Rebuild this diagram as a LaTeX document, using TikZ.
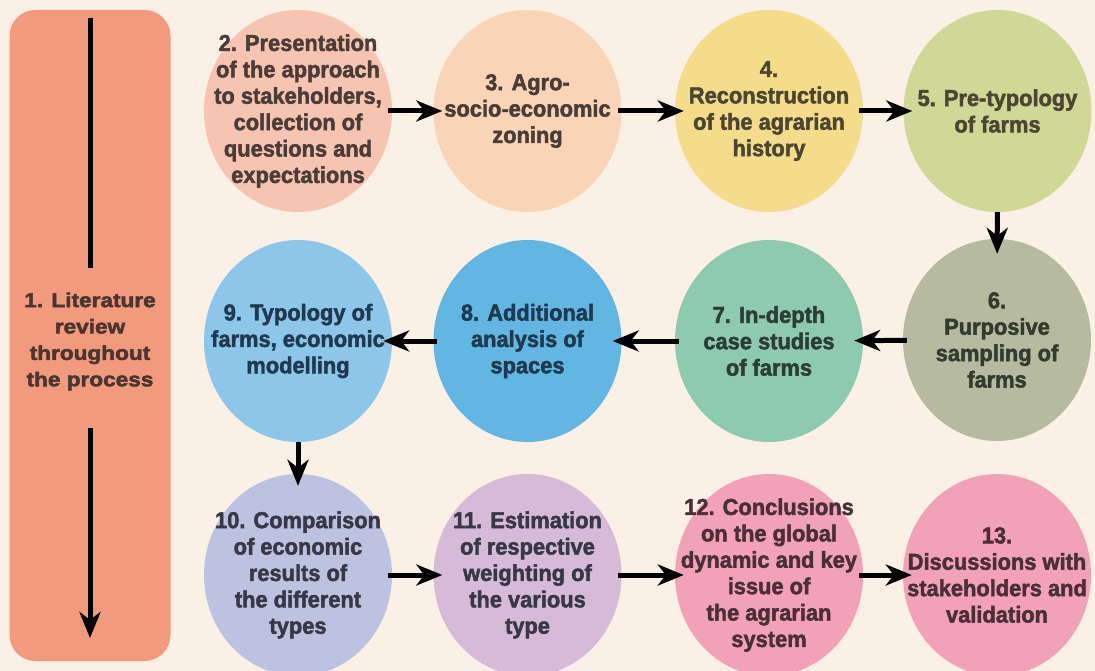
\documentclass[tikz,border=0pt]{standalone}
\usepackage{xcolor}
\usepackage{fontspec}
\usetikzlibrary{shapes.geometric,arrows.meta}

\newfontfamily\stepfont{Liberation Sans}[FakeStretch=0.95,BoldFeatures={FakeBold=2}]
\newfontfamily\litfont{Liberation Sans}[FakeStretch=1.13,BoldFeatures={FakeBold=2.5}]

\definecolor{bgcream}{HTML}{FAF0E5}
\definecolor{litfill}{HTML}{F29A7E}
\definecolor{littext}{HTML}{4B3530}
\definecolor{fillA}{HTML}{F7C4B1}
\definecolor{fillB}{HTML}{F9D4B6}
\definecolor{fillC}{HTML}{F4DC8A}
\definecolor{fillD}{HTML}{CFD897}
\definecolor{fillE}{HTML}{B6BA9E}
\definecolor{fillF}{HTML}{8DCAB0}
\definecolor{fillG}{HTML}{62B6E2}
\definecolor{fillH}{HTML}{8CC6E8}
\definecolor{fillI}{HTML}{BCC2E0}
\definecolor{fillJ}{HTML}{D6BAD8}
\definecolor{fillK}{HTML}{F2A2B8}
\definecolor{textA}{HTML}{4A3C38}
\definecolor{textC}{HTML}{4B4632}
\definecolor{textE}{HTML}{353A30}
\definecolor{textF}{HTML}{2C3D35}
\definecolor{textG}{HTML}{1F3A4F}
\definecolor{textI}{HTML}{383746}
\definecolor{textK}{HTML}{4A2F38}

\begin{document}
\begin{tikzpicture}[x=1pt,y=-1pt,
    stepnode/.style={ellipse,minimum width=188pt,minimum height=202pt,inner sep=-40pt,
      align=center,font=\stepfont\bfseries\fontsize{23}{26.4}\selectfont},
    steparrow/.style={line width=5pt,-{Stealth[length=26pt,width=21pt,inset=8pt]},
      shorten <=-4pt,shorten >=-9pt}]
                \fill[bgcream] (0,0) rectangle (1095,671);
                \useasboundingbox (0,0) rectangle (1095,671);

                \node[fill=litfill,rounded corners=26pt,minimum width=161pt,minimum height=651pt] (lit) at (90,335.5) {};
                \node[align=center,text=littext,font=\litfont\bfseries\fontsize{20}{26.4}\selectfont] (littxt) at (90,341.5)
                    {1. Literature\\review\\throughout\\the process};
                \coordinate (lita) at (90,18);
                \coordinate (litb) at (90,268);
                \coordinate (litc) at (90,428);
                \coordinate (litd) at (90,638);
                \draw[line width=5pt] (lita) -- (litb);
                \draw[steparrow,shorten <=0pt,shorten >=0pt] (litc) -- (litd);

                \node[stepnode,fill=fillA,text=textA] (s2) at (298,111)
                    {2. Presentation\\of the approach\\to stakeholders,\\collection of\\questions and\\expectations};
                \node[stepnode,fill=fillB,text=textA] (s3) at (527.5,111)
                    {3. Agro-\\socio-economic\\zoning};
                \node[stepnode,fill=fillC,text=textC] (s4) at (769,111)
                    {4.\\Reconstruction\\of the agrarian\\history};
                \node[stepnode,fill=fillD,text=textC] (s5) at (997.5,111)
                    {5. Pre-typology\\of farms};

                \node[stepnode,fill=fillE,text=textE] (s6) at (997,340)
                    {6.\\Purposive\\sampling of\\farms};
                \node[stepnode,fill=fillF,text=textF] (s7) at (769,341)
                    {7. In-depth\\case studies\\of farms};
                \node[stepnode,fill=fillG,text=textG] (s8) at (527.5,341)
                    {8. Additional\\analysis of\\spaces};
                \node[stepnode,fill=fillH,text=textG] (s9) at (298,341)
                    {9. Typology of\\farms, economic\\modelling};

                \node[stepnode,fill=fillI,text=textI] (s10) at (298,575)
                    {10. Comparison\\of economic\\results of\\the different\\types};
                \node[stepnode,fill=fillJ,text=textI] (s11) at (527.5,575)
                    {11. Estimation\\of respective\\weighting of\\the various\\type};
                \node[stepnode,fill=fillK,text=textK] (s12) at (769,575)
                    {12. Conclusions\\on the global\\dynamic and key\\issue of\\the agrarian\\system};
                \node[stepnode,fill=fillK,text=textK] (s13) at (997,575)
                    {13.\\Discussions with\\stakeholders and\\validation};

                \draw[steparrow] (s2) -- (s3);
                \draw[steparrow] (s3) -- (s4);
                \draw[steparrow] (s4) -- (s5);
                \draw[steparrow,shorten <=0pt,shorten >=-15pt] (s5) -- (s6);
                \draw[steparrow] (s6) -- (s7);
                \draw[steparrow] (s7) -- (s8);
                \draw[steparrow] (s8) -- (s9);
                \draw[steparrow,shorten <=0pt,shorten >=-12pt] (s9) -- (s10);
                \draw[steparrow] (s10) -- (s11);
                \draw[steparrow] (s11) -- (s12);
                \draw[steparrow] (s12) -- (s13);
            \end{tikzpicture}
\end{document}
